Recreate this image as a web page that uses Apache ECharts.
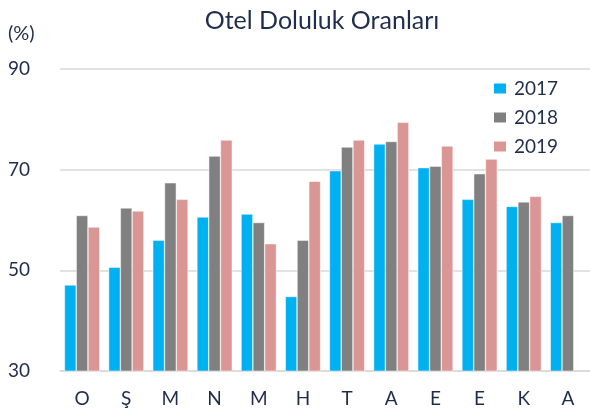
<!DOCTYPE html>
<html>
<head>
<meta charset="utf-8">
<script src="https://cdn.jsdelivr.net/npm/echarts@6/dist/echarts.min.js"></script>
<style>
  html, body { margin: 0; padding: 0; background: #fff; }
  #chart { width: 590px; height: 412px; }
</style>
</head>
<body>
<div id="chart"></div>
<script>
// aylar (Ocak -> Aralık)
const months = ['O', 'Ş', 'M', 'N', 'M', 'H', 'T', 'A', 'E', 'E', 'K', 'A'];
const occ2017 = [47.1, 50.6, 56.0, 60.6, 61.2, 44.8, 69.8, 75.1, 70.4, 64.1, 62.7, 59.5];
const occ2018 = [60.9, 62.4, 67.4, 72.7, 59.5, 56.0, 74.5, 75.6, 70.7, 69.2, 63.6, 60.9];
const occ2019 = [58.6, 61.8, 64.1, 75.9, 55.3, 67.7, 75.9, 79.4, 74.7, 72.1, 64.7, null];
const yTicks = [30, 50, 70, 90];

const textColor = '#1F2D4D';
const font = 'Lato, "Open Sans", sans-serif';

const chart = echarts.init(document.getElementById('chart'));

function barSeries(name, data, color) {
  return {
    name: name,
    type: 'bar',
    data: data,
    barGap: '0%',
    barCategoryGap: '20%',
    itemStyle: { color: color, borderColor: '#fff', borderWidth: 0.5 }
  };
}

chart.setOption({
  animation: false,
  textStyle: { fontFamily: font },
  title: [
    {
      text: 'Otel Doluluk Oranları',
      left: 317,
      textAlign: 'center',
      top: 3,
      textStyle: { fontSize: 25, fontWeight: 'normal', color: textColor, fontFamily: font }
    },
    {
      text: '(%)',
      left: 3,
      top: 19,
      textStyle: { fontSize: 20, fontWeight: 'normal', color: textColor, fontFamily: font }
    }
  ],
  legend: {
    orient: 'vertical',
    left: 492,
    top: 79,
    padding: 0,
    itemWidth: 14,
    itemHeight: 12,
    itemGap: 10,
    icon: 'rect',
    textStyle: { fontSize: 19, color: textColor, fontFamily: font, padding: [0, 0, 0, 2] },
    data: ['2017', '2018', '2019']
  },
  grid: { left: 60, right: -4, top: 69, bottom: 41 },
  xAxis: {
    type: 'category',
    data: months,
    axisTick: { show: false },
    axisLine: { lineStyle: { color: '#D9D9D9', width: 1.5 } },
    axisLabel: { fontSize: 19, color: textColor, margin: 18, fontFamily: font }
  },
  yAxis: {
    type: 'value',
    min: yTicks[0],
    max: yTicks[yTicks.length - 1],
    interval: 20,
    axisLine: { show: false },
    axisTick: { show: false },
    splitLine: { lineStyle: { color: '#D9D9D9', width: 1.5 } },
    axisLabel: {
      fontSize: 19, color: textColor, fontFamily: font,
      align: 'left', margin: 52
    }
  },
  series: [
    barSeries('2017', occ2017, '#00B0F0'),
    barSeries('2018', occ2018, '#808080'),
    barSeries('2019', occ2019, '#DA9694')
  ]
});
</script>
</body>
</html>
